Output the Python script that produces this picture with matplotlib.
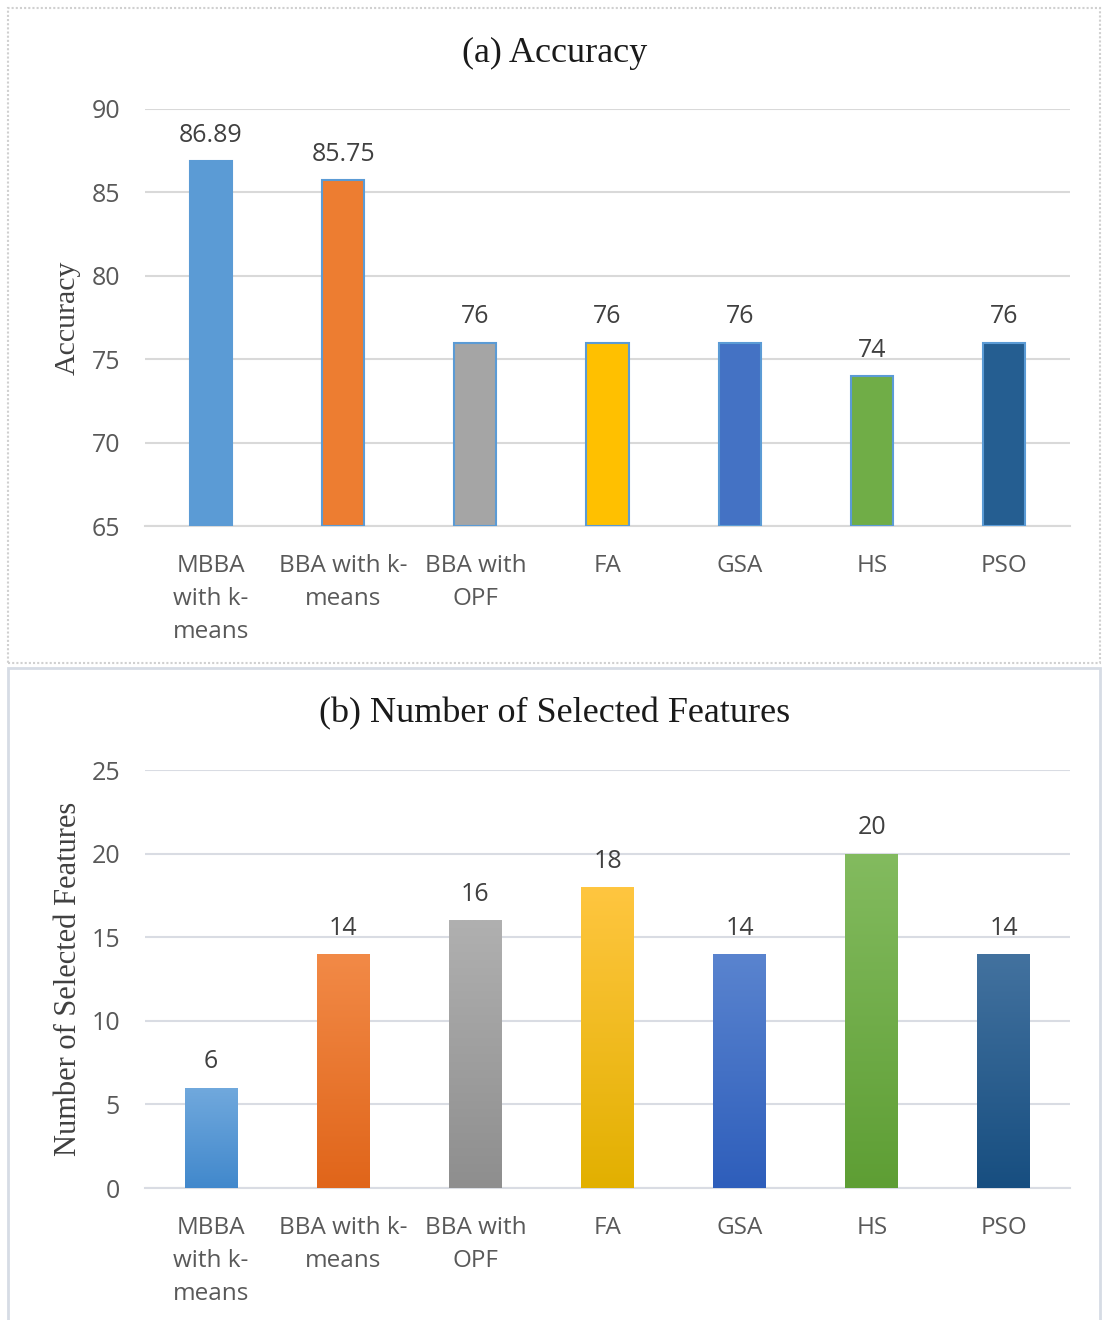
import matplotlib.pyplot as plt
import numpy as np
from matplotlib.colors import LinearSegmentedColormap, to_rgb
from matplotlib.patches import Rectangle

categories = ["MBBA\nwith k-\nmeans", "BBA with k-\nmeans", "BBA with\nOPF", "FA", "GSA", "HS", "PSO"]
accuracy = [86.89, 85.75, 76, 76, 76, 74, 76]
accuracy_labels = ["86.89", "85.75", "76", "76", "76", "74", "76"]
n_features = [6, 14, 16, 18, 14, 20, 14]

colors = ["#5B9BD5", "#ED7D31", "#A5A5A5", "#FFC000", "#4472C4", "#70AD47", "#255E91"]
# lighter top / darker bottom for the gradient bars
grad_top = ["#71A9DD", "#F28A47", "#B0B0B0", "#FFC640", "#5A84CF", "#83BB5F", "#43729F"]
grad_bot = ["#4188CC", "#E0651A", "#8E8E8E", "#E2B000", "#2E5EBB", "#5E9E34", "#174E80"]

tick_font = "Open Sans"
serif = "Liberation Serif"
tick_col = "#595959"
grid_col = "#D9D9D9"

fig = plt.figure(figsize=(11.02, 13.2), dpi=100)
W, H = 1102, 1320

def fx(px):
    return px / W

def fy(py):
    return 1 - py / H

# panel frames
fig.patches.append(Rectangle((fx(8), fy(663)), fx(1100) - fx(8), fy(8) - fy(663),
                             transform=fig.transFigure, fill=False, ec="#D0D0D0", lw=1.5, ls=(0, (1, 1))))
fig.patches.append(Rectangle((fx(8), fy(1322)), fx(1100) - fx(8), fy(668) - fy(1322),
                             transform=fig.transFigure, fill=False, ec="#D6DCE5", lw=2))

ax1 = fig.add_axes([fx(145), fy(526), fx(1070) - fx(145), fy(109) - fy(526)])
ax2 = fig.add_axes([fx(145), fy(1188), fx(1070) - fx(145), fy(770) - fy(1188)])

x = np.arange(len(categories))

# (a) accuracy
ax1.bar(x, [a - 65 for a in accuracy], bottom=65, width=0.32, color=colors,
        edgecolor="#5B9BD5", linewidth=1.5, zorder=3)
for xi, a, lab in zip(x, accuracy, accuracy_labels):
    ax1.text(xi, a + 0.8, lab, ha="center", va="bottom", fontsize=18,
             family=tick_font, color="#404040")
ax1.set_ylim(65, 90)
ax1.set_yticks(range(65, 91, 5))
ax1.set_ylabel("Accuracy", family=serif, fontsize=21.5, color="#404040", labelpad=8)
fig.text(0.503, fy(53), "(a) Accuracy", family=serif, fontsize=26, color="#1a1a1a",
         ha="center", va="center")

# (b) number of selected features, gradient bars
bars = ax2.bar(x, n_features, width=0.4, color="none", zorder=3)
for b, ct, cb in zip(bars, grad_top, grad_bot):
    cmap = LinearSegmentedColormap.from_list("g", [to_rgb(cb), to_rgb(ct)])
    x0, w, h = b.get_x(), b.get_width(), b.get_height()
    im = ax2.imshow(np.linspace(0, 1, 256).reshape(-1, 1), cmap=cmap, origin="lower",
                    extent=[x0, x0 + w, 0, h], aspect="auto", zorder=3)
    im.set_clip_path(b)
for xi, v in zip(x, n_features):
    ax2.text(xi, v + 0.8, str(v), ha="center", va="bottom", fontsize=18,
             family=tick_font, color="#404040")
ax2.set_ylim(0, 25)
ax2.set_yticks(range(0, 26, 5))
ax2.set_ylabel("Number of Selected Features", family=serif, fontsize=22, color="#404040", labelpad=6)
fig.text(0.503, fy(714), "(b) Number of Selected Features", family=serif, fontsize=26,
         color="#1a1a1a", ha="center", va="center")

for ax, gc in ((ax1, grid_col), (ax2, "#D9DCE3")):
    ax.set_xlim(-0.5, len(categories) - 0.5)
    ax.set_xticks(x)
    ax.set_xticklabels(categories, family=tick_font, fontsize=17.5, color=tick_col, linespacing=1.5)
    for lab in ax.get_yticklabels():
        lab.set_family(tick_font)
    ax.tick_params(axis="y", labelsize=18, labelcolor=tick_col, length=0, pad=18)
    ax.tick_params(axis="x", length=0, pad=20)
    ax.yaxis.grid(True, color=gc, lw=1.5)
    ax.set_axisbelow(True)
    for s in ("top", "right", "left"):
        ax.spines[s].set_visible(False)
    ax.spines["bottom"].set_color(gc)
    ax.spines["bottom"].set_linewidth(1.5)
    for lab in ax.get_xticklabels():
        lab.set_verticalalignment("top")

fig.savefig("out.png", dpi=100)
